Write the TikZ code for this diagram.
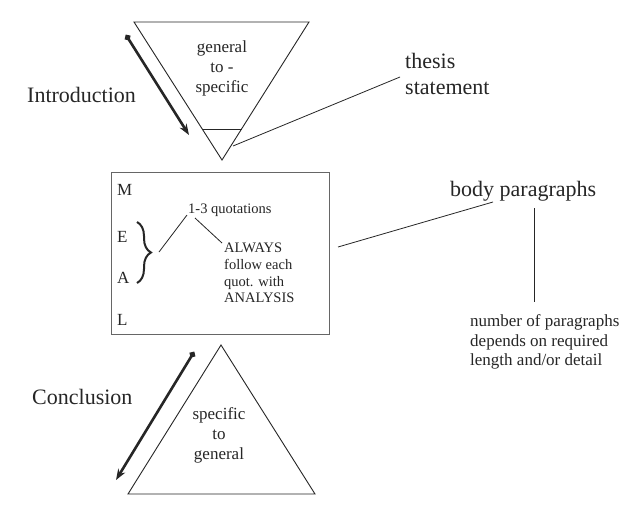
\documentclass[tikz,border=0pt]{standalone}
\usepackage{fontspec}
\setmainfont{Liberation Serif}
\usetikzlibrary{arrows.meta,decorations.pathreplacing,calc}
\begin{document}
\begin{tikzpicture}[x=1pt,y=-1pt,
  shapeline/.style={line width=0.9pt, draw=black!85},
  thinline/.style={line width=0.8pt, draw=black!85},
  bigarrow/.style={line width=2.6pt, draw=black!85, {Circle[length=6pt]}-{Stealth[length=11pt,width=8pt]}},
  bigtext/.style={font=\fontsize{22}{26}\selectfont, inner sep=0pt, text=black!85},
  midtext/.style={font=\fontsize{17}{20}\selectfont, inner sep=0pt, text=black!85, align=center},
  smalltext/.style={font=\fontsize{14.5}{16.7}\selectfont, inner sep=0pt, text=black!85, align=left},
  noteText/.style={font=\fontsize{17}{19.5}\selectfont, inner sep=0pt, text=black!85, align=left}]
\useasboundingbox (0,0) rectangle (640,512);
\fill[white] (0,0) rectangle (640,512);

% top triangle
\coordinate (t1) at (134,22);
\coordinate (t2) at (309,22);
\coordinate (t3) at (222,160);
\draw[shapeline] (t1) -- (t2) -- (t3) -- cycle;
\coordinate (ti1) at ($(t1)!0.775!(t3)$);
\coordinate (ti2) at ($(t2)!0.775!(t3)$);
\draw[shapeline] (ti1) -- (ti2);
\node[midtext] (gts) at (222,68) {general\\to -\\specific};

\node[bigtext, anchor=base west] (intro) at (27,102) {Introduction};
\coordinate (ia) at (126,35);
\coordinate (ib) at (189,135);
\draw[bigarrow] (ia) -- (ib);

% thesis
\node[bigtext, anchor=west, align=left] (thesis) at (405,74) {thesis\\statement};
\coordinate (th0) at (233,146);
\coordinate (th1) at (400,77);
\draw[thinline] (th0) -- (th1);

% body box
\node[draw=black!60, line width=0.8pt, minimum width=218pt, minimum height=162pt, inner sep=0pt] (box) at (220,253) {};
\node[midtext, anchor=west] (M) at (117,190) {M};
\node[midtext, anchor=west] (E) at (117,237) {E};
\node[midtext, anchor=west] (A) at (117,278) {A};
\node[midtext, anchor=west] (L) at (117,320) {L};
\draw[decorate, decoration={brace, amplitude=14pt}, line width=2pt, draw=black!85] (137,222) -- (137,283);
\coordinate (bt) at (159,252);
\node[smalltext, anchor=west] (quot) at (188,210) {1-3 quotations};
\coordinate (q1) at (187,215);
\coordinate (q2) at (195,218);
\node[smalltext, anchor=west] (always) at (224,273) {ALWAYS\\follow each\\quot. with\\ANALYSIS};
\coordinate (q3) at (222,243);
\draw[thinline] (bt) -- (q1);
\draw[thinline] (q2) -- (q3);

% body paragraphs
\node[bigtext, anchor=base west] (body) at (450,196) {body paragraphs};
\coordinate (bp0) at (338,247);
\coordinate (bp1) at (493,202);
\draw[thinline] (bp0) -- (bp1);
\coordinate (v0) at (534,208);
\coordinate (v1) at (534,302);
\draw[thinline] (v0) -- (v1);
\node[noteText, anchor=west] (num) at (470,342) {number of paragraphs\\depends on required\\length and/or detail};

% bottom triangle
\coordinate (b1) at (221,345);
\coordinate (b2) at (128,494);
\coordinate (b3) at (315,494);
\draw[shapeline] (b1) -- (b2) -- (b3) -- cycle;
\node[midtext] (stg) at (219,435) {specific\\to\\general};

\node[bigtext, anchor=base west] (concl) at (32,404) {Conclusion};
\coordinate (ca) at (194,352);
\coordinate (cb) at (116,480);
\draw[bigarrow] (ca) -- (cb);
\end{tikzpicture}
\end{document}
